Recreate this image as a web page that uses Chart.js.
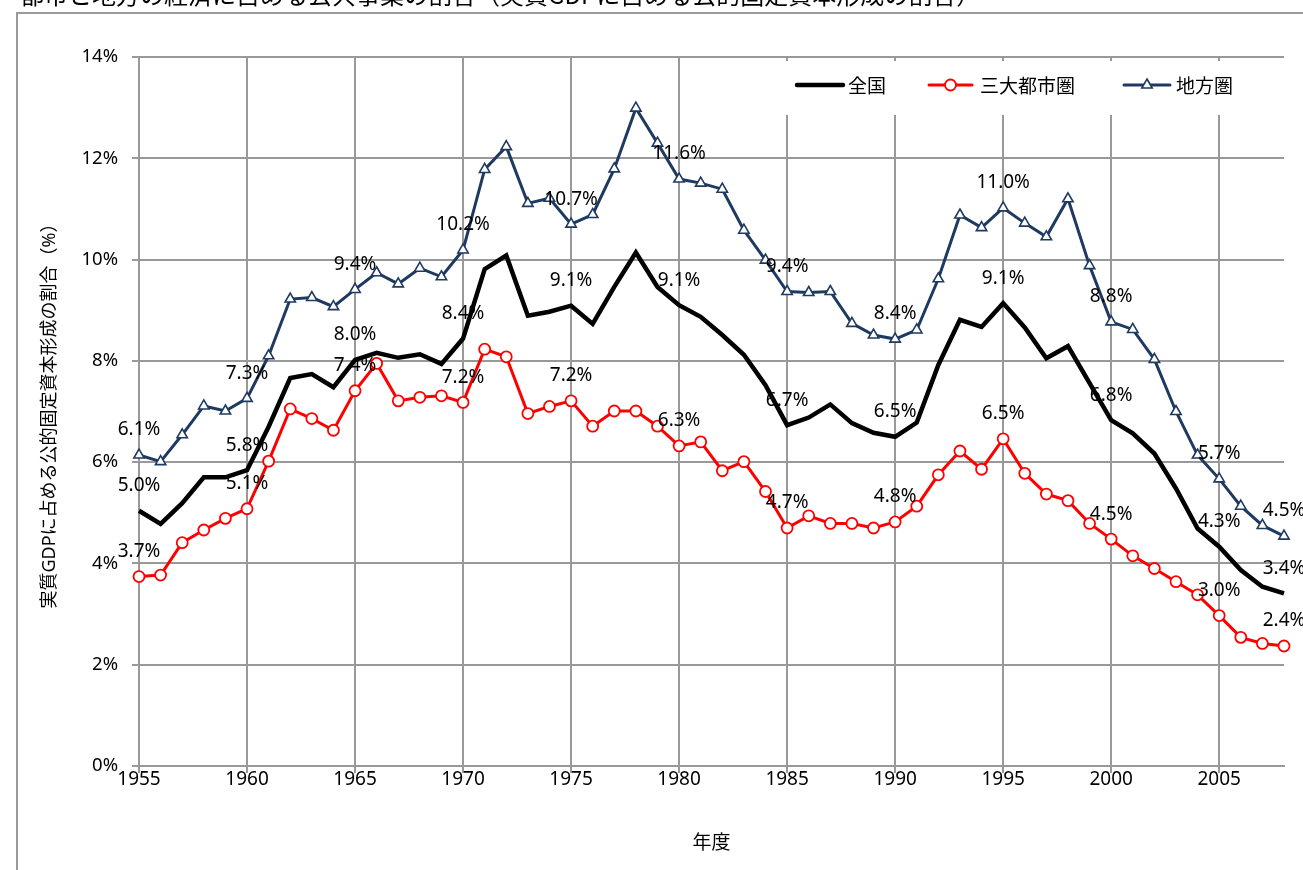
<!DOCTYPE html>
<html lang="ja">
<head>
<meta charset="utf-8">
<title>公共事業の割合</title>
<script src="https://cdn.jsdelivr.net/npm/chart.js@4.4.1/dist/chart.umd.min.js"></script>
<style>
  html, body { margin: 0; padding: 0; background: #fff; overflow: hidden; }
  body { width: 1303px; height: 870px; position: relative; }
  #frame { position: absolute; left: 16px; top: 12px; width: 1400px; height: 1000px; border: 2px solid #9a9a9a; box-sizing: border-box; }
  #wrap { position: absolute; left: 0; top: -20px; width: 1303px; height: 890px; }
</style>
</head>
<body>
<div id="frame"></div>
<div id="wrap"><canvas id="chart"></canvas></div>
<script>
const YEARS = [
  '1955','1956','1957','1958','1959','1960','1961','1962','1963','1964',
  '1965','1966','1967','1968','1969','1970','1971','1972','1973','1974',
  '1975','1976','1977','1978','1979','1980','1981','1982','1983','1984',
  '1985','1986','1987','1988','1989','1990','1991','1992','1993','1994',
  '1995','1996','1997','1998','1999','2000','2001','2002','2003','2004',
  '2005','2006','2007','2008'
];

// 全国
const NATIONAL = [
  5.04, 4.78, 5.19, 5.70, 5.70, 5.84, 6.70, 7.66, 7.74, 7.48,
  8.02, 8.16, 8.06, 8.13, 7.94, 8.44, 9.81, 10.08, 8.89, 8.97,
  9.09, 8.73, 9.46, 10.14, 9.46, 9.10, 8.87, 8.51, 8.12, 7.52,
  6.73, 6.88, 7.14, 6.77, 6.58, 6.50, 6.78, 7.92, 8.81, 8.67,
  9.14, 8.66, 8.05, 8.29, 7.56, 6.83, 6.57, 6.17, 5.48, 4.69,
  4.33, 3.87, 3.54, 3.41
];

// 三大都市圏
const METRO = [
  3.74, 3.77, 4.41, 4.66, 4.89, 5.08, 6.02, 7.05, 6.86, 6.63,
  7.41, 7.95, 7.21, 7.28, 7.31, 7.18, 8.23, 8.08, 6.96, 7.10,
  7.21, 6.71, 7.01, 7.01, 6.71, 6.32, 6.40, 5.83, 6.01, 5.42,
  4.70, 4.94, 4.79, 4.79, 4.70, 4.82, 5.13, 5.75, 6.22, 5.86,
  6.46, 5.78, 5.37, 5.24, 4.79, 4.48, 4.15, 3.90, 3.64, 3.38,
  2.97, 2.54, 2.42, 2.37
];

// 地方圏
const REGIONAL = [
  6.14, 6.01, 6.54, 7.11, 7.01, 7.26, 8.10, 9.22, 9.25, 9.07,
  9.41, 9.74, 9.52, 9.83, 9.66, 10.19, 11.78, 12.23, 11.11, 11.21,
  10.70, 10.89, 11.79, 12.99, 12.30, 11.59, 11.51, 11.39, 10.58, 9.99,
  9.37, 9.35, 9.37, 8.74, 8.51, 8.43, 8.61, 9.62, 10.88, 10.63,
  11.02, 10.72, 10.45, 11.20, 9.88, 8.77, 8.62, 8.03, 7.00, 6.14,
  5.67, 5.13, 4.75, 4.54
];

const Y_TICKS = [0, 2, 4, 6, 8, 10, 12, 14];

const TITLE = '都市と地方の経済に占める公共事業の割合（実質GDPに占める公的固定資本形成の割合）';
const Y_TITLE = '実質GDPに占める公的固定資本形成の割合（%）';
const X_TITLE = '年度';

const NUM_FONT = "'Noto Sans', 'Noto Sans CJK JP', sans-serif";
const GRID_COLOR = '#999999';
const NAVY = '#1f3a60';

function isLabelled(index) {
  return index % 5 === 0 || index === YEARS.length - 1;
}

// data labels every 5 years (and the last year), above each point
const pointLabels = {
  id: 'pointLabels',
  afterDatasetsDraw(chart) {
    const ctx = chart.ctx;
    ctx.save();
    ctx.font = `19px ${NUM_FONT}`;
    ctx.fillStyle = '#000';
    ctx.textAlign = 'center';
    ctx.textBaseline = 'middle';
    chart.data.datasets.forEach((dataset, di) => {
      const meta = chart.getDatasetMeta(di);
      meta.data.forEach((point, index) => {
        if (!isLabelled(index)) return;
        ctx.fillText(`${dataset.data[index].toFixed(1)}%`, point.x, point.y - 25);
      });
    });
    ctx.restore();
  }
};

// legend sits inside the plot, on a white box
const insideLegend = {
  id: 'insideLegend',
  afterDraw(chart) {
    const { ctx, chartArea } = chart;
    const right = chartArea.right;
    const cy = chartArea.top + 28;
    ctx.save();
    ctx.fillStyle = '#fff';
    ctx.fillRect(right - 525, chartArea.top + 4, 530, 54);

    const slots = [
      { start: right - 487, end: right - 441, text: right - 436 },
      { start: right - 355, end: right - 312, text: right - 304 },
      { start: right - 160, end: right - 114, text: right - 108 }
    ];
    chart.data.datasets.forEach((dataset, i) => {
      const slot = slots[i];
      ctx.strokeStyle = dataset.borderColor;
      ctx.lineWidth = dataset.borderWidth;
      ctx.lineCap = 'round';
      ctx.beginPath();
      ctx.moveTo(slot.start, cy);
      ctx.lineTo(slot.end, cy);
      ctx.stroke();
      if (dataset.pointRadius > 0) {
        ctx.fillStyle = dataset.pointBackgroundColor;
        ctx.strokeStyle = dataset.pointBorderColor;
        ctx.lineWidth = dataset.pointBorderWidth;
        Chart.helpers.drawPoint(ctx, {
          pointStyle: dataset.pointStyle,
          radius: dataset.pointRadius,
          borderWidth: dataset.pointBorderWidth,
          rotation: 0
        }, (slot.start + slot.end) / 2, cy);
      }
      ctx.fillStyle = '#000';
      ctx.font = "19px 'Noto Sans CJK JP', sans-serif";
      ctx.textAlign = 'left';
      ctx.textBaseline = 'middle';
      ctx.fillText(dataset.label, slot.text, cy + 1);
    });
    ctx.restore();
  }
};

const chart = new Chart(document.getElementById('chart').getContext('2d'), {
  type: 'line',
  data: {
    labels: YEARS,
    datasets: [
      {
        label: '全国',
        data: NATIONAL,
        borderColor: '#000000',
        borderWidth: 4.5,
        pointRadius: 0,
        pointHoverRadius: 0,
        tension: 0
      },
      {
        label: '三大都市圏',
        data: METRO,
        borderColor: '#ff0000',
        borderWidth: 3,
        pointStyle: 'circle',
        pointRadius: 5.5,
        pointBackgroundColor: '#ffffff',
        pointBorderColor: '#ff0000',
        pointBorderWidth: 1.8,
        tension: 0
      },
      {
        label: '地方圏',
        data: REGIONAL,
        borderColor: NAVY,
        borderWidth: 3,
        pointStyle: 'triangle',
        pointRadius: 6,
        pointBackgroundColor: '#ffffff',
        pointBorderColor: NAVY,
        pointBorderWidth: 1.6,
        tension: 0
      }
    ]
  },
  options: {
    responsive: true,
    maintainAspectRatio: false,
    animation: false,
    events: [],
    layout: { padding: { left: 20, right: 19, top: 0, bottom: 0 } },
    plugins: {
      legend: { display: false },
      tooltip: { enabled: false },
      title: {
        display: true,
        text: TITLE,
        align: 'start',
        color: '#000',
        font: { family: "'Noto Sans CJK JP', sans-serif", size: 24, weight: 'normal', lineHeight: 1.2 },
        padding: { top: 0, bottom: 48.2 }
      }
    },
    scales: {
      x: {
        type: 'category',
        offset: false,
        grid: {
          color: (c) => (c.index % 5 === 0 ? GRID_COLOR : 'rgba(0,0,0,0)'),
          lineWidth: 2,
          tickLength: 7,
          drawTicks: true
        },
        border: { color: GRID_COLOR, width: 2 },
        ticks: {
          autoSkip: false,
          maxRotation: 0,
          padding: -5,
          color: '#000',
          font: { family: NUM_FONT, size: 19 },
          callback: (value, index) => (index % 5 === 0 ? YEARS[index] : '')
        },
        title: {
          display: true,
          text: X_TITLE,
          color: '#000',
          font: { family: "'Noto Sans CJK JP', sans-serif", size: 19 },
          padding: { top: 0, bottom: 17 }
        },
        afterFit: (scale) => { scale.height = 104; }
      },
      y: {
        min: 0,
        max: 14,
        afterBuildTicks: (scale) => { scale.ticks = Y_TICKS.map((v) => ({ value: v })); },
        grid: { color: GRID_COLOR, lineWidth: 2, tickLength: 7 },
        border: { color: GRID_COLOR, width: 2 },
        ticks: {
          padding: 14,
          color: '#000',
          font: { family: NUM_FONT, size: 18.5 },
          callback: (value) => `${value}%`
        },
        title: {
          display: true,
          text: Y_TITLE,
          color: '#000',
          font: { family: "'Noto Sans', 'Noto Sans CJK JP', sans-serif", size: 18 },
          padding: { top: 19, bottom: 0 }
        },
        afterFit: (scale) => { scale.width = 119; }
      }
    }
  },
  plugins: [pointLabels, insideLegend]
});
</script>
</body>
</html>
